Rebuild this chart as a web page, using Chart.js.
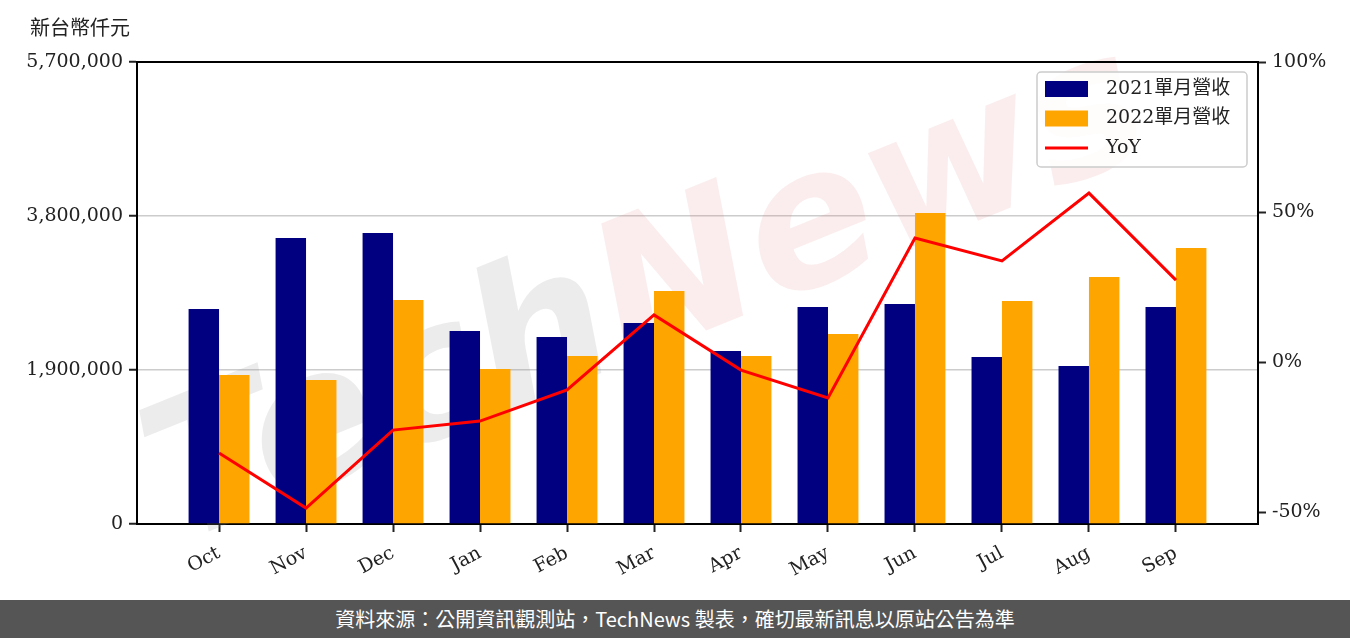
<!DOCTYPE html>
<html>
<head>
<meta charset="utf-8">
<script src="https://cdn.jsdelivr.net/npm/chart.js@4"></script>
<style>
  body { margin: 0; background: #fff; width: 1350px; height: 638px; overflow: hidden; }
  #wrap { width: 1350px; height: 600px; position: relative; }
  #footer {
    height: 38px; background: #555555; color: #fff;
    font-family: "Noto Sans CJK TC", "Noto Sans", sans-serif; font-size: 20px;
    text-align: center; line-height: 38px;
  }
</style>
</head>
<body>
<div id="wrap"><canvas id="revChart" width="1350" height="600"></canvas></div>
<div id="footer">資料來源：公開資訊觀測站，TechNews 製表，確切最新訊息以原站公告為準</div>
<script>
// Monthly revenue, thousand NTD
const months = ['Oct', 'Nov', 'Dec', 'Jan', 'Feb', 'Mar', 'Apr', 'May', 'Jun', 'Jul', 'Aug', 'Sep'];
const rev2021 = [2653000, 3529000, 3590000, 2381000, 2307000, 2480000, 2134000, 2677000, 2714000, 2060000, 1949000, 2677000];
const rev2022 = [1838000, 1777000, 2764000, 1912000, 2073000, 2875000, 2073000, 2344000, 3837000, 2751000, 3047000, 3405000];
const yoy = [-30.3, -48.7, -22.7, -19.7, -9.3, 15.7, -2.7, -12.0, 41.3, 33.7, 56.3, 27.3];

const leftTicks = [0, 1900000, 3800000, 5700000];
const rightTicks = [-50, 0, 50, 100];

const serif = '"DejaVu Serif", "Noto Sans CJK TC", serif';
const tickFont = { family: serif, size: 19 };

// month index as x so the axis can keep the wider side margins
const toPoints = arr => arr.map((v, i) => ({ x: i, y: v }));

// watermark + unit title + top border + legend
const decorations = {
    id: 'decorations',
    beforeDatasetsDraw(chart) {
        const ctx = chart.ctx;
        ctx.save();
        ctx.translate(650, 300);
        ctx.rotate(-22 * Math.PI / 180);
        ctx.font = 'bold italic 190px "DejaVu Sans", sans-serif';
        ctx.textBaseline = 'middle';
        const wTech = ctx.measureText('Tech').width;
        const wAll = ctx.measureText('TechNews').width;
        ctx.fillStyle = 'rgba(150, 150, 150, 0.18)';
        ctx.fillText('Tech', -wAll / 2, 0);
        ctx.fillStyle = 'rgba(225, 110, 110, 0.12)';
        ctx.fillText('News', -wAll / 2 + wTech, 0);
        ctx.restore();
    },
    afterDraw(chart) {
        const ctx = chart.ctx;
        const area = chart.chartArea;
        ctx.save();

        // unit label
        ctx.fillStyle = '#222';
        ctx.font = '20px "Noto Sans CJK TC", sans-serif';
        ctx.textBaseline = 'middle';
        ctx.textAlign = 'left';
        ctx.fillText('新台幣仟元', 30, 27);

        // top border
        ctx.strokeStyle = '#000';
        ctx.lineWidth = 2;
        ctx.beginPath();
        ctx.moveTo(area.left, area.top);
        ctx.lineTo(area.right, area.top);
        ctx.stroke();

        // legend box
        const bx = area.right - 221, by = area.top + 10, bw = 210, bh = 95;
        ctx.fillStyle = 'rgba(255,255,255,0.85)';
        ctx.strokeStyle = '#cccccc';
        ctx.lineWidth = 1.5;
        ctx.beginPath();
        ctx.roundRect(bx, by, bw, bh, 4);
        ctx.fill();
        ctx.stroke();

        chart.data.datasets.forEach((ds, i) => {
            const cy = by + 17 + i * 29.5;
            if (ds.type === 'line') {
                ctx.strokeStyle = ds.borderColor;
                ctx.lineWidth = 3;
                ctx.beginPath();
                ctx.moveTo(bx + 8, cy);
                ctx.lineTo(bx + 51, cy);
                ctx.stroke();
            } else {
                ctx.fillStyle = ds.backgroundColor;
                ctx.fillRect(bx + 8, cy - 8, 43, 16);
            }
            ctx.fillStyle = '#222';
            ctx.font = '19px ' + serif;
            ctx.textAlign = 'left';
            ctx.textBaseline = 'middle';
            ctx.fillText(ds.label, bx + 69, cy);
        });
        ctx.restore();
    }
};

new Chart(document.getElementById('revChart'), {
    type: 'bar',
    data: {
        datasets: [
            {
                label: '2021單月營收',
                data: toPoints(rev2021),
                backgroundColor: '#000080',
                yAxisID: 'y',
                order: 2,
                categoryPercentage: 0.7,
                barPercentage: 1.0
            },
            {
                label: '2022單月營收',
                data: toPoints(rev2022),
                backgroundColor: '#FFA500',
                yAxisID: 'y',
                order: 2,
                categoryPercentage: 0.7,
                barPercentage: 1.0
            },
            {
                type: 'line',
                label: 'YoY',
                data: toPoints(yoy),
                borderColor: '#FF0000',
                borderWidth: 3,
                pointRadius: 0,
                tension: 0,
                yAxisID: 'y1',
                order: 0
            }
        ]
    },
    options: {
        responsive: false,
        animation: false,
        layout: { padding: { top: 62, left: 0, right: 0, bottom: 0 } },
        plugins: {
            legend: { display: false },
            tooltip: { enabled: false }
        },
        scales: {
            x: {
                type: 'linear',
                min: -0.943,
                max: 11.943,
                offset: false,
                afterFit: s => { s.height = 76; },
                afterBuildTicks: s => { s.ticks = months.map((m, i) => ({ value: i })); },
                border: { color: '#000', width: 2 },
                grid: { drawOnChartArea: false, offset: false, tickLength: 8, tickColor: '#222', tickWidth: 2 },
                ticks: {
                    font: tickFont,
                    color: '#222',
                    minRotation: 28,
                    maxRotation: 28,
                    padding: 10,
                    callback: v => months[v]
                }
            },
            y: {
                position: 'left',
                min: 0,
                max: 5700000,
                afterFit: s => { s.width = 137; },
                afterBuildTicks: s => { s.ticks = leftTicks.map(v => ({ value: v })); },
                border: { color: '#000', width: 2 },
                grid: {
                    color: c => (c.tick && c.tick.value > 0 && c.tick.value < 5700000) ? '#cccccc' : 'rgba(0,0,0,0)',
                    lineWidth: 1.5,
                    tickLength: 8,
                    tickColor: '#222',
                    tickWidth: 2
                },
                ticks: {
                    font: tickFont,
                    color: '#222',
                    padding: 6,
                    callback: v => v.toLocaleString('en-US')
                }
            },
            y1: {
                position: 'right',
                min: -54,
                max: 100,
                afterFit: s => { s.width = 92; },
                afterBuildTicks: s => { s.ticks = rightTicks.map(v => ({ value: v })); },
                border: { color: '#000', width: 2 },
                grid: { drawOnChartArea: false, tickLength: 8, tickColor: '#222', tickWidth: 2 },
                ticks: {
                    font: tickFont,
                    color: '#222',
                    padding: 6,
                    callback: v => v + '%'
                }
            }
        }
    },
    plugins: [decorations]
});
</script>
</body>
</html>
